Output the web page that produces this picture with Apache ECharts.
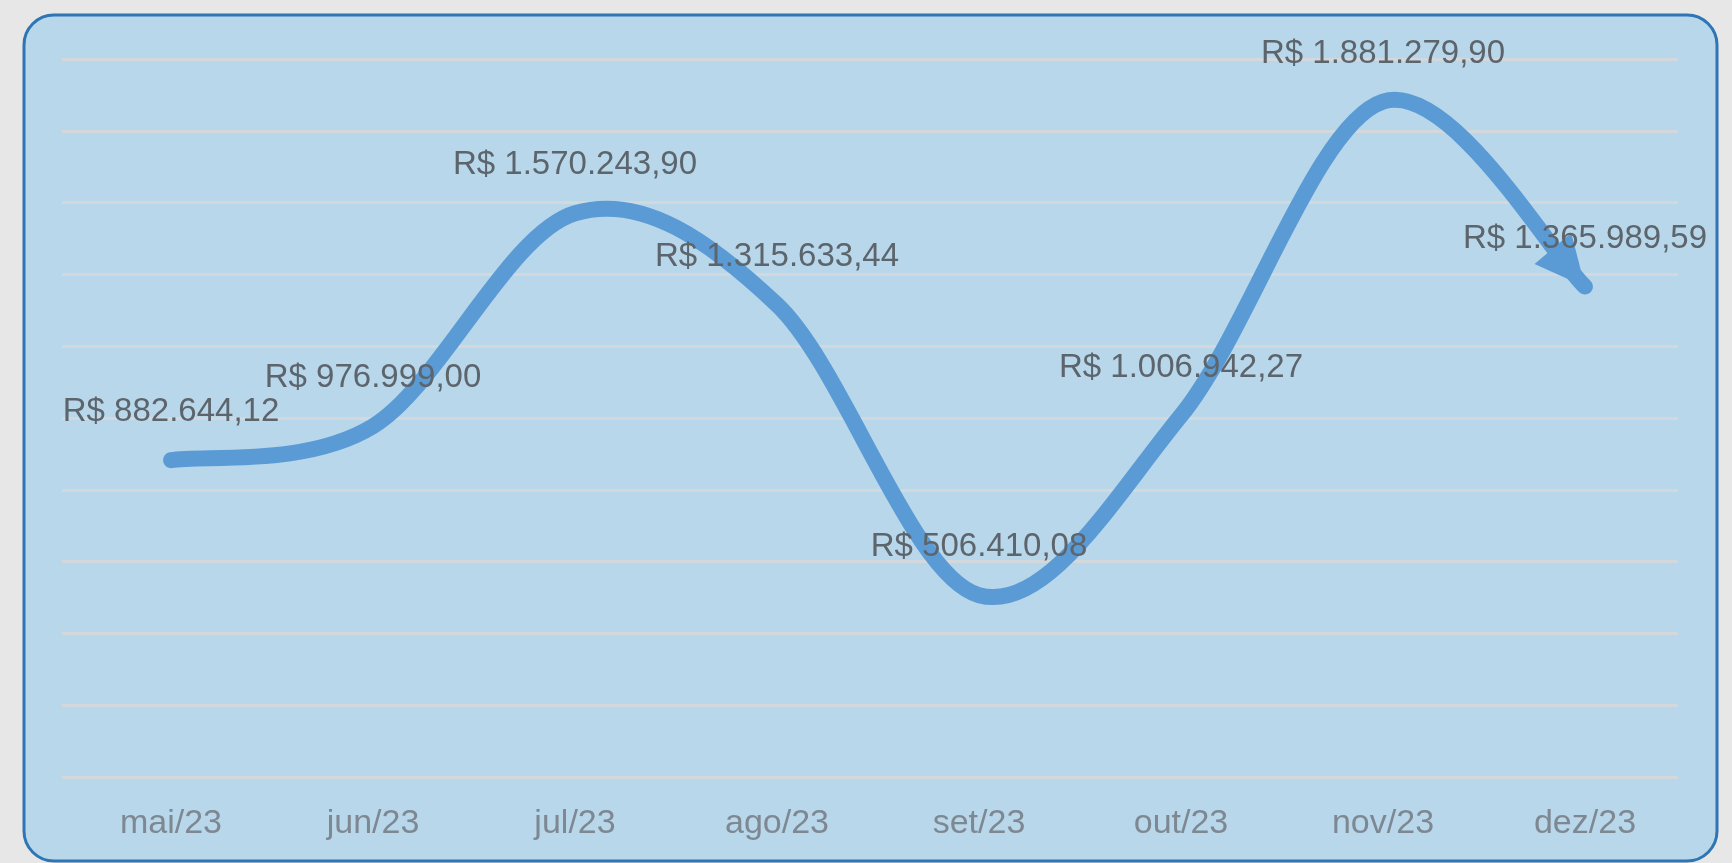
<!DOCTYPE html>
<html>
<head>
<meta charset="utf-8">
<script src="https://cdn.jsdelivr.net/npm/echarts@6/dist/echarts.min.js"></script>
<style>
html,body{margin:0;padding:0;background:#e7e7e7;}
#chart{width:1732px;height:863px;}
</style>
</head>
<body>
<div id="chart"></div>
<script>
const categories = ['mai/23','jun/23','jul/23','ago/23','set/23','out/23','nov/23','dez/23'];
const values = [882644.12, 976999.00, 1570243.90, 1315633.44, 506410.08, 1006942.27, 1881279.90, 1365989.59];
const yMin = 0;
const yMax = 2000000;
const yInterval = 200000;

function brl(v){
  const parts = v.toFixed(2).split('.');
  const intPart = parts[0].replace(/\B(?=(\d{3})+(?!\d))/g, '.');
  return 'R$ ' + intPart + ',' + parts[1];
}

const LINE_COLOR = '#5b9bd5';
const pairs = values.map((v, i) => [i, v]);
const lastIdx = values.length - 1;

// Excel-style smoothed line (Catmull-Rom -> cubic Bezier); points placed by the axes via api.coord
function renderCurve(params, api) {
  if (params.dataIndex !== 0) return null;
  const pts = values.map((v, i) => api.coord([i, v]));
  const n = pts.length;
  let d = 'M' + pts[0][0] + ' ' + pts[0][1];
  for (let i = 0; i < n - 1; i++) {
    const p0 = pts[Math.max(i - 1, 0)];
    const p1 = pts[i];
    const p2 = pts[i + 1];
    const p3 = pts[Math.min(i + 2, n - 1)];
    const c1x = p1[0] + (p2[0] - p0[0]) / 6;
    const c1y = p1[1] + (p2[1] - p0[1]) / 6;
    const c2x = p2[0] - (p3[0] - p1[0]) / 6;
    const c2y = p2[1] - (p3[1] - p1[1]) / 6;
    d += ' C' + c1x + ' ' + c1y + ' ' + c2x + ' ' + c2y + ' ' + p2[0] + ' ' + p2[1];
  }
  return {
    type: 'path',
    shape: {pathData: d},
    style: {fill: 'none', stroke: LINE_COLOR, lineWidth: 16, lineCap: 'round', lineJoin: 'round'}
  };
}

const chart = echarts.init(document.getElementById('chart'));
chart.setOption({
  backgroundColor: '#e7e7e7',
  animation: false,
  graphic: [{
    type: 'rect', z: -10, silent: true,
    shape: {x: 24, y: 15, width: 1693, height: 846, r: 30},
    style: {fill: '#b9d7ea', stroke: '#2e75b6', lineWidth: 3}
  }],
  grid: [
    {left: 62, right: 54, top: 59, bottom: 86, containLabel: false},
    {left: 70, right: 46, top: 59, bottom: 86, containLabel: false}
  ],
  xAxis: [{
    gridIndex: 0,
    type: 'category',
    data: categories,
    show: false
  }, {
    gridIndex: 1,
    type: 'category',
    data: categories,
    boundaryGap: true,
    axisLine: {show: false},
    axisTick: {show: false},
    splitLine: {show: false},
    axisLabel: {color: '#7d8892', fontSize: 34, fontFamily: 'Liberation Sans', margin: 30}
  }],
  yAxis: [{
    gridIndex: 0,
    type: 'value',
    min: yMin, max: yMax, interval: yInterval,
    axisLabel: {show: false},
    axisLine: {show: false},
    axisTick: {show: false},
    splitLine: {show: true, lineStyle: {color: '#d3d8dd', width: 3}}
  }, {
    gridIndex: 1,
    type: 'value',
    min: yMin, max: yMax, interval: yInterval,
    show: false,
    splitLine: {show: false}
  }],
  series: [{
    type: 'custom',
    xAxisIndex: 1, yAxisIndex: 1,
    data: pairs,
    renderItem: renderCurve,
    clip: false,
    silent: true,
    z: 3
  }, {
    type: 'scatter',
    xAxisIndex: 1, yAxisIndex: 1,
    data: pairs,
    symbolSize: 2,
    itemStyle: {color: 'rgba(0,0,0,0)', opacity: 1},
    label: {
      show: true, position: 'top', distance: 30,
      formatter: p => brl(p.value[1]),
      color: '#5c646c', fontSize: 33, fontFamily: 'Liberation Sans', lineHeight: 34
    },
    silent: true,
    z: 5
  }, {
    type: 'scatter',
    xAxisIndex: 1, yAxisIndex: 1,
    data: [pairs[lastIdx]],
    symbol: 'triangle',
    symbolSize: [48, 50],
    symbolRotate: -140,
    symbolOffset: [-16, -19],
    itemStyle: {color: LINE_COLOR, opacity: 1},
    silent: true,
    z: 4
  }]
});
</script>
</body>
</html>
